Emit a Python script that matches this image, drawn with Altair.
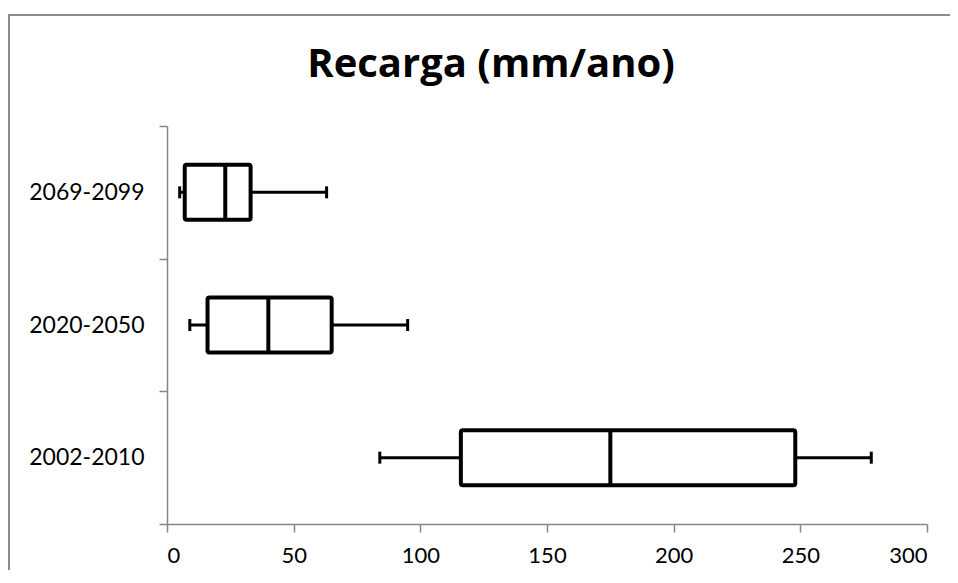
import altair as alt
import pandas as pd

periods = ["2069-2099", "2020-2050", "2002-2010"]
lower = [5, 9, 84]
q1 = [7, 16, 116]
median = [23, 40, 175]
q3 = [33, 65, 248]
upper = [63, 95, 278]

x_ticks = [0, 50, 100, 150, 200, 250, 300]

df = pd.DataFrame({"period": periods, "lower": lower, "q1": q1, "median": median,
                   "q3": q3, "upper": upper})

FONT = "Lato"
BOX_H = 55

y_enc = alt.Y("period:N", sort=periods, title=None,
              scale=alt.Scale(paddingInner=0, paddingOuter=0),
              axis=alt.Axis(tickBand="extent", labelFontSize=23, labelFont=FONT,
                            labelColor="black", domainColor="#868686", tickColor="#868686",
                            tickSize=8, labelPadding=15, domainWidth=1.5, tickWidth=1.5))
x_scale = alt.Scale(domain=[0, 300], nice=False)
x_axis = alt.Axis(values=x_ticks, grid=False, labelFontSize=22, labelFont=FONT,
                  labelColor="black", domainColor="#868686", tickColor="#868686",
                  tickSize=8, labelPadding=13, domainWidth=1.5, tickWidth=1.5)

base = alt.Chart(df)

whisker = base.mark_rule(color="black", strokeWidth=3).encode(
    x=alt.X("lower:Q", scale=x_scale, axis=x_axis, title=None),
    x2="upper:Q",
    y=y_enc,
)
box = base.mark_bar(fill="white", stroke="black", strokeWidth=4, size=BOX_H,
                    strokeJoin="round", cornerRadius=2).encode(
    x=alt.X("q1:Q", scale=x_scale), x2="q3:Q", y=alt.Y("period:N", sort=periods)
)
med = base.mark_tick(color="black", opacity=1, orient="vertical", size=BOX_H, thickness=4).encode(
    x=alt.X("median:Q", scale=x_scale), y=alt.Y("period:N", sort=periods)
)
cap_lo = base.mark_tick(color="black", opacity=1, orient="vertical", size=12, thickness=3).encode(
    x=alt.X("lower:Q", scale=x_scale), y=alt.Y("period:N", sort=periods)
)
cap_hi = base.mark_tick(color="black", opacity=1, orient="vertical", size=12, thickness=3).encode(
    x=alt.X("upper:Q", scale=x_scale), y=alt.Y("period:N", sort=periods)
)

one = alt.Data(values=[{"a": 1}])
frame_top = alt.Chart(one).mark_rule(color="#8c8c8c", strokeWidth=2).encode(
    x=alt.value(-159), x2=alt.value(790), y=alt.value(-111))
frame_left = alt.Chart(one).mark_rule(color="#8c8c8c", strokeWidth=2).encode(
    x=alt.value(-158), y=alt.value(-112), y2=alt.value(1200))

chart = alt.layer(frame_top, frame_left, whisker, box, med, cap_lo, cap_hi).properties(
    width=760, height=398,
    title=alt.TitleParams("Recarga (mm/ano)", font="Open Sans", fontSize=40, fontWeight="bold",
                          color="black", anchor="middle", frame="group", dx=-56,
                          baseline="alphabetic", offset=-104),
    autosize=alt.AutoSizeParams(type="none"),
    padding={"left": 159, "top": 118, "right": 23, "bottom": 46},
).configure(background="white").configure_view(stroke=None, strokeWidth=0)

chart.save("out.html", embed_options={"renderer": "svg", "actions": False})
